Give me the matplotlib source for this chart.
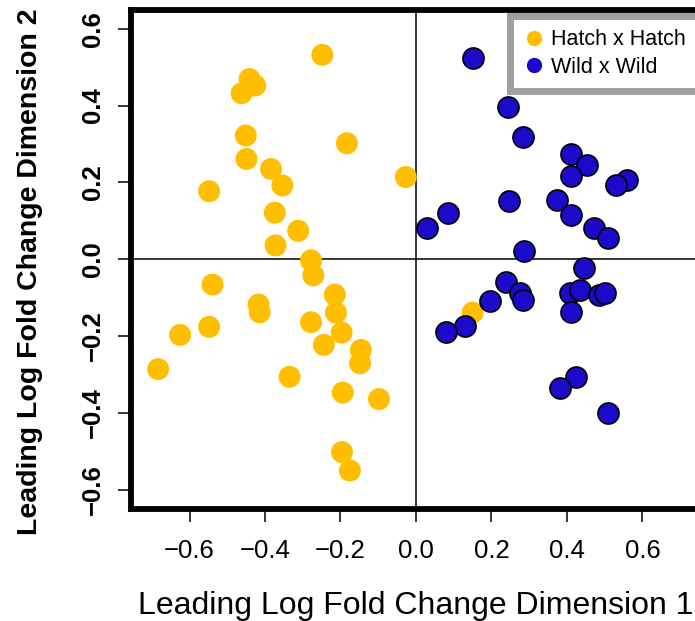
import matplotlib
matplotlib.use("Agg")
import matplotlib.pyplot as plt
from matplotlib.lines import Line2D

plt.rcParams['font.family'] = ['Liberation Sans', 'DejaVu Sans']

# Hatch x Hatch points (dimension 1, dimension 2)
hatch_x = [-0.248, -0.441, -0.426, -0.462, -0.451, -0.183, -0.449, -0.027, -0.384, -0.354,
           -0.548, -0.374, -0.312, -0.372, -0.278, -0.272, -0.539, -0.417, -0.414, -0.215,
           -0.212, -0.278, -0.548, -0.197, -0.625, -0.244, -0.146, -0.148, -0.683, -0.335,
           -0.194, -0.098, -0.196, -0.175, 0.150]
hatch_y = [0.532, 0.469, 0.452, 0.432, 0.322, 0.302, 0.261, 0.214, 0.235, 0.192,
           0.177, 0.121, 0.074, 0.036, -0.003, -0.042, -0.066, -0.118, -0.138, -0.092,
           -0.139, -0.164, -0.176, -0.191, -0.197, -0.223, -0.236, -0.271, -0.286, -0.306,
           -0.347, -0.364, -0.502, -0.550, -0.139]

# Wild x Wild points
wild_x = [0.152, 0.243, 0.284, 0.412, 0.452, 0.412, 0.558, 0.530, 0.373, 0.247,
          0.412, 0.084, 0.028, 0.472, 0.510, 0.287, 0.445, 0.238, 0.275, 0.283,
          0.196, 0.408, 0.434, 0.485, 0.500, 0.411, 0.130, 0.079, 0.423, 0.381, 0.510]
wild_y = [0.524, 0.397, 0.319, 0.275, 0.244, 0.216, 0.207, 0.192, 0.153, 0.151,
          0.114, 0.121, 0.081, 0.080, 0.054, 0.022, -0.022, -0.059, -0.089, -0.105,
          -0.109, -0.089, -0.081, -0.094, -0.087, -0.138, -0.174, -0.189, -0.306, -0.334, -0.401]

ticks = [-0.6, -0.4, -0.2, 0.0, 0.2, 0.4, 0.6]
tick_labels = ['\u22120.6', '\u22120.4', '\u22120.2', '0.0', '0.2', '0.4', '0.6']

orange = '#FFBE00'
blue = '#1C0ACB'

fig = plt.figure(figsize=(6.95, 6.21), dpi=100)
ax = fig.add_axes([0.1885, 0.1804, 0.82, 0.8043])

ax.axhline(0, color='black', lw=1.1, zorder=1)
ax.axvline(0, color='black', lw=1.1, zorder=1)

ax.scatter(hatch_x, hatch_y, s=250, c=orange, edgecolors='none', zorder=2)
ax.scatter(wild_x, wild_y, s=230, c=blue, edgecolors='black', linewidths=1.2, zorder=3)

ax.set_xlim(-0.755, 0.755)
ax.set_ylim(-0.65, 0.65)

for sp in ax.spines.values():
    sp.set_linewidth(4.2)

ax.set_xticks(ticks)
ax.set_xticklabels(tick_labels, fontsize=18.5)
ax.set_yticks(ticks)
ax.set_yticklabels(tick_labels, fontsize=18.5, rotation=90, va='center', fontweight='bold')
ax.tick_params(axis='both', direction='out', length=9.5, width=1.1)
ax.tick_params(axis='x', pad=12)
ax.tick_params(axis='y', pad=9)

ax.set_xlabel('Leading Log Fold Change Dimension 1', fontsize=23)
ax.xaxis.set_label_coords(0.5, -0.165)
ax.set_ylabel('Leading Log Fold Change Dimension 2', fontsize=20.5, fontweight='bold')
ax.yaxis.set_label_coords(-0.155, 0.4745)

handles = [Line2D([], [], ls='none', marker='o', ms=11, mfc=orange, mec='none'),
           Line2D([], [], ls='none', marker='o', ms=10, mfc=blue, mec=blue)]
leg = ax.legend(handles, ['Hatch x Hatch', 'Wild x Wild'], loc='upper left',
                bbox_to_anchor=(0.6658, 0.986), borderaxespad=0, fontsize=15.5,
                fancybox=False, framealpha=1, edgecolor='#A0A0A0',
                handlelength=1.0, handletextpad=0.3, labelspacing=0.3, borderpad=0.6)
leg.get_frame().set_linewidth(5)

fig.savefig('out.png', dpi=100)
